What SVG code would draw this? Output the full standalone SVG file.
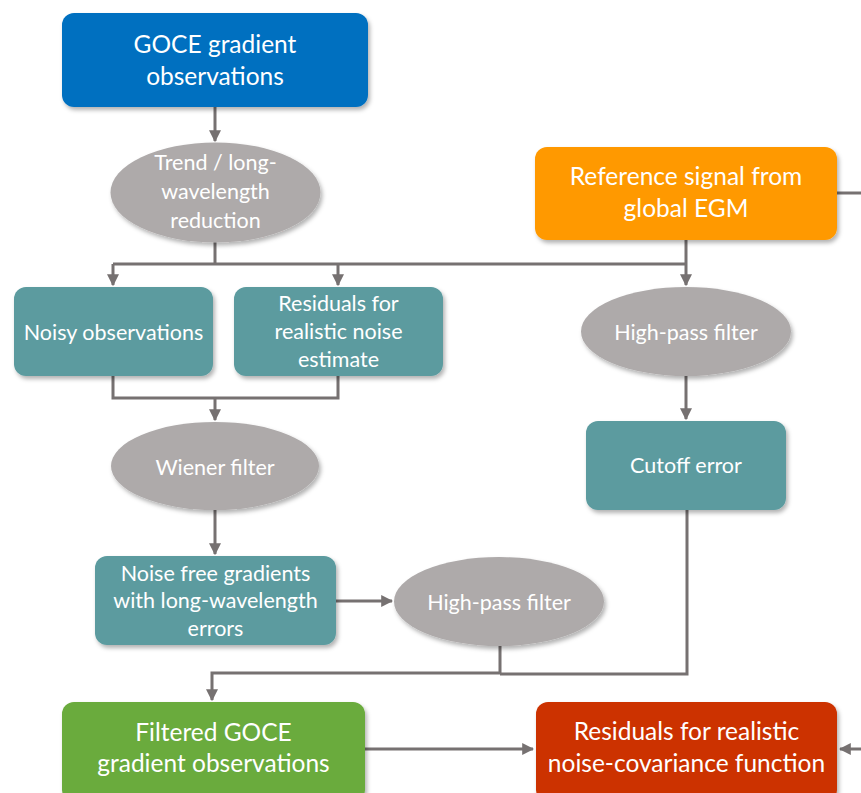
<svg xmlns="http://www.w3.org/2000/svg" width="861" height="793" viewBox="0 0 861 793">
<defs>
<filter id="sh" x="-10%" y="-10%" width="125%" height="130%">
<feDropShadow dx="2" dy="3" stdDeviation="2" flood-color="#000" flood-opacity="0.3"/>
</filter>
<marker id="ah" viewBox="0 0 10 10" refX="9" refY="5" markerWidth="4" markerHeight="4" orient="auto" markerUnits="strokeWidth">
<path d="M0,0 L10,5 L0,10 z" fill="#767171"/>
</marker>
</defs>
<style>
.box{filter:url(#sh)}
.ell{fill:#AEAAAA;filter:url(#sh)}
.teal{fill:#5B9B9F}
text{font-family:Lato,"Open Sans","Liberation Sans",sans-serif;fill:#fff;text-anchor:middle}
.big{font-size:24.5px}
.sm{font-size:21.5px}
.c{fill:none;stroke:#767171;stroke-width:3}
</style>
<rect width="861" height="793" fill="#fff"/>
<g id="connectors">
<path class="c" d="M215,107 V141" marker-end="url(#ah)"/>
<path class="c" d="M215,242 V264"/>
<path class="c" d="M113,264 H686"/>
<path class="c" d="M113,264 V285" marker-end="url(#ah)"/>
<path class="c" d="M338,264 V285" marker-end="url(#ah)"/>
<path class="c" d="M686,240 V285" marker-end="url(#ah)"/>
<path class="c" d="M837,193 H861"/>
<path class="c" d="M113,376 V398 H338 V376"/>
<path class="c" d="M215,398 V420" marker-end="url(#ah)"/>
<path class="c" d="M686,376 V419" marker-end="url(#ah)"/>
<path class="c" d="M215,510 V554" marker-end="url(#ah)"/>
<path class="c" d="M336,601 H392" marker-end="url(#ah)"/>
<path class="c" d="M500,646 V673 H212 V700" marker-end="url(#ah)"/>
<path class="c" d="M687,510 V674 H500"/>
<path class="c" d="M365,749 H533" marker-end="url(#ah)"/>
<path class="c" d="M861,749 H840" marker-end="url(#ah)"/>
</g>
<g id="goce">
<rect class="box" x="62" y="13" width="306" height="94" rx="12" fill="#0070C0"/>
<text class="big" x="215" y="53">GOCE gradient</text>
<text class="big" x="215" y="85">observations</text>
</g>
<g id="trend">
<ellipse class="ell" cx="215.5" cy="192.5" rx="105" ry="50"/>
<text class="sm" x="215.5" y="170">Trend / long-</text>
<text class="sm" x="215.5" y="199">wavelength</text>
<text class="sm" x="215.5" y="228">reduction</text>
</g>
<g id="reference">
<rect class="box" x="535" y="147" width="302" height="93" rx="12" fill="#FF9900"/>
<text class="big" x="686" y="185">Reference signal from</text>
<text class="big" x="686" y="217">global EGM</text>
</g>
<g id="noisy">
<rect class="box teal" x="14" y="287" width="199" height="89" rx="12"/>
<text class="sm" x="113.5" y="340">Noisy observations</text>
</g>
<g id="residuals-noise">
<rect class="box teal" x="234" y="287" width="209" height="89" rx="12"/>
<text class="sm" x="338.5" y="311">Residuals for</text>
<text class="sm" x="338.5" y="339">realistic noise</text>
<text class="sm" x="338.5" y="367">estimate</text>
</g>
<g id="highpass1">
<ellipse class="ell" cx="686" cy="331.5" rx="105" ry="44.5"/>
<text class="sm" x="686" y="340">High-pass filter</text>
</g>
<g id="wiener">
<ellipse class="ell" cx="215" cy="466" rx="104" ry="44"/>
<text class="sm" x="215" y="475">Wiener filter</text>
</g>
<g id="cutoff">
<rect class="box teal" x="586" y="421" width="200" height="89" rx="12"/>
<text class="sm" x="686" y="473">Cutoff error</text>
</g>
<g id="noisefree">
<rect class="box teal" x="95" y="556" width="241" height="89" rx="12"/>
<text class="sm" x="215.5" y="581">Noise free gradients</text>
<text class="sm" x="215.5" y="608">with long-wavelength</text>
<text class="sm" x="215.5" y="636">errors</text>
</g>
<g id="highpass2">
<ellipse class="ell" cx="499" cy="601.5" rx="105" ry="44.5"/>
<text class="sm" x="499" y="610">High-pass filter</text>
</g>
<g id="filtered">
<rect class="box" x="62" y="702" width="303" height="100" rx="12" fill="#6AAB3C"/>
<text class="big" x="213.5" y="741">Filtered GOCE</text>
<text class="big" x="213.5" y="772">gradient observations</text>
</g>
<g id="residuals-cov">
<rect class="box" x="536" y="702" width="301" height="100" rx="12" fill="#CC3300"/>
<text class="big" x="686.5" y="740">Residuals for realistic</text>
<text class="big" x="686.5" y="772">noise-covariance function</text>
</g>
</svg>
